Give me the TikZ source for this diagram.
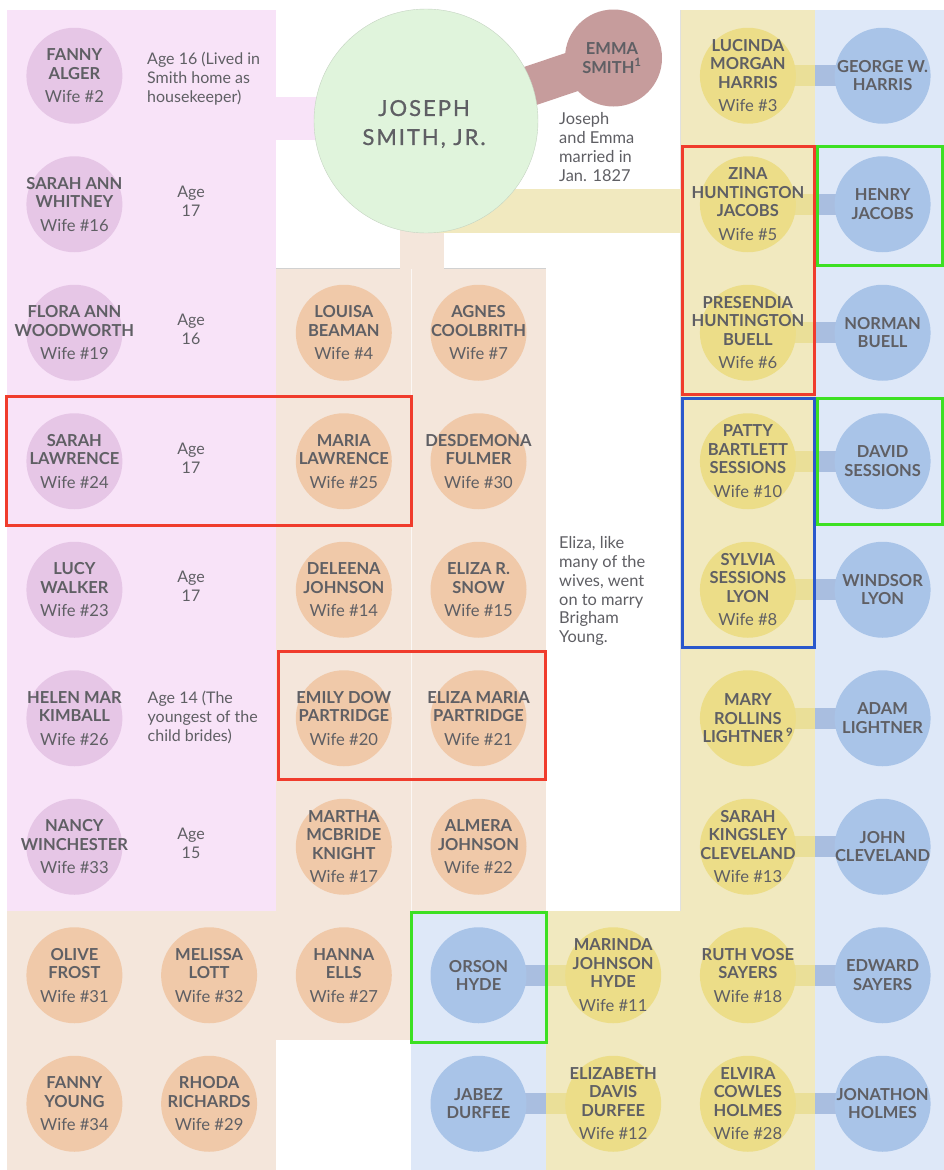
\documentclass[tikz,border=0pt]{standalone}
\usepackage{fontspec}
\setmainfont{Lato}
\newfontfamily\josephfont[LetterSpace=9,FakeBold=0.9]{Lato}
\definecolor{txt}{HTML}{5F5F64}
\definecolor{pinkbg}{HTML}{F8E3F8}
\definecolor{pinkc}{HTML}{E6C6E6}
\definecolor{beigebg}{HTML}{F4E6DB}
\definecolor{orangec}{HTML}{F0C9A9}
\definecolor{yellowbg}{HTML}{F1E9BF}
\definecolor{yellowc}{HTML}{ECDD88}
\definecolor{yellowbar}{HTML}{EADF98}
\definecolor{bluebg}{HTML}{DEE8F8}
\definecolor{bluec}{HTML}{A9C4E8}
\definecolor{bluebar}{HTML}{A9BEE0}
\definecolor{josephc}{HTML}{E0F4DC}
\definecolor{emmac}{HTML}{C69C9C}
\definecolor{redbox}{HTML}{F03C2C}
\definecolor{greenbox}{HTML}{3CE022}
\definecolor{bluebox}{HTML}{2A58CC}
\newcommand\namefont{\bfseries\fontsize{16.5}{18.5}\selectfont}
\newcommand\wf[1]{\mdseries\fontsize{16.6}{18.5}\selectfont #1}
\pgfdeclarelayer{bgrect}
\pgfdeclarelayer{bars}
\pgfsetlayers{bgrect,bars,main}
\tikzset{
  circ/.style={circle, minimum size=96pt, inner sep=0pt, draw=none},
  pk/.style={circ, fill=pinkc},
  or/.style={circ, fill=orangec},
  ye/.style={circ, fill=yellowc},
  bl/.style={circ, fill=bluec},
  ntext/.style={align=center, text=txt, font=\namefont, inner sep=0pt},
  note/.style={align=left, text=txt, inner sep=0pt, font=\fontsize{16}{19.3}\selectfont},
  smallnote/.style={align=left, text=txt, inner sep=0pt, font=\fontsize{16.4}{18.8}\selectfont},
  agec/.style={align=center, text=txt, inner sep=0pt, font=\fontsize{16}{19}\selectfont},
  ybar/.style={draw=yellowbar, line width=21pt},
  bbar/.style={draw=bluebar, line width=21pt},
  hbox/.style={line width=3pt}
}
\newcommand\pers[5]{\node[#2] (#1) at (#3,#4) {};\node[ntext] (#1-t) at (#3,#4) {#5};}
\begin{document}
\begin{tikzpicture}[x=1pt,y=-1pt]
\useasboundingbox (0,0) rectangle (944,1170);
\begin{pgfonlayer}{bgrect}
\fill[white] (0,0) rectangle (944,1170);
\fill[pinkbg] (7,10) rectangle (276.45,911);
\fill[beigebg] (276.45,268.5) rectangle (545.85,911);
\fill[beigebg] (7,911) rectangle (411.15,1039.5);
\fill[beigebg] (7,1039.5) rectangle (276.45,1170);
\fill[yellowbg] (680.55,10) rectangle (815.25,911);
\fill[yellowbg] (545.85,911) rectangle (815.25,1170);
\fill[bluebg] (815.25,10) rectangle (944,1170);
\fill[bluebg] (411.15,911) rectangle (545.85,1170);
\draw[white, opacity=0.7, line width=1pt] (411.15,268.5) -- (411.15,911);
\draw[black!18, line width=0.8pt] (276.45,268.5) -- (545.85,268.5);
\draw[black!12, line width=0.8pt] (680.55,10) -- (680.55,911);
\end{pgfonlayer}

% Joseph and Emma
\node[circle, minimum size=224pt, inner sep=0pt, fill=josephc, draw=josephc!85!black!90, line width=0.4pt] (joseph) at (426,121) {};
\node[text=txt, align=center, inner sep=0pt, font=\josephfont\fontsize{22}{29}\selectfont] (joseph-t) at (424,124) {JOSEPH\\SMITH, JR.};
\node[circ, minimum size=97pt, fill=emmac] (emma) at (613.5,58) {};
\node[ntext] (emma-t) at (612,58) {EMMA\\SMITH\textsuperscript{1}};
\node[smallnote, anchor=north west] (jnote) at (559,112.5) {Joseph\\and Emma\\married in\\Jan. 1827};

% row 0
\pers{fanny}{pk}{74.4}{75.75}{FANNY\\ALGER\\[5pt]\wf{Wife \#2}}
\node[note, anchor=north west] (age2) at (147,51.5) {Age 16 (Lived in\\Smith home as\\housekeeper)};
\pers{lucinda}{ye}{747.9}{75.75}{LUCINDA\\MORGAN\\HARRIS\\[5pt]\wf{Wife \#3}}
\pers{george}{bl}{882.6}{75.75}{GEORGE W.\\HARRIS}
% row 1
\pers{sarahann}{pk}{74.4}{204.25}{SARAH ANN\\WHITNEY\\[5pt]\wf{Wife \#16}}
\node[agec] (age16) at (191,201) {Age\\17};
\pers{zina}{ye}{747.9}{204.25}{ZINA\\HUNTINGTON\\JACOBS\\[5pt]\wf{Wife \#5}}
\pers{henry}{bl}{882.6}{204.25}{HENRY\\JACOBS}
% row 2
\pers{flora}{pk}{74.4}{332.75}{FLORA ANN\\WOODWORTH\\[5pt]\wf{Wife \#19}}
\node[agec] (age19) at (191,329.5) {Age\\16};
\pers{louisa}{or}{343.8}{332.75}{LOUISA\\BEAMAN\\[5pt]\wf{Wife \#4}}
\pers{agnes}{or}{478.5}{332.75}{AGNES\\COOLBRITH\\[5pt]\wf{Wife \#7}}
\pers{presendia}{ye}{747.9}{332.75}{PRESENDIA\\HUNTINGTON\\BUELL\\[5pt]\wf{Wife \#6}}
\pers{norman}{bl}{882.6}{332.75}{NORMAN\\BUELL}
% row 3
\pers{sarahl}{pk}{74.4}{461.25}{SARAH\\LAWRENCE\\[5pt]\wf{Wife \#24}}
\node[agec] (age24) at (191,458) {Age\\17};
\pers{maria}{or}{343.8}{461.25}{MARIA\\LAWRENCE\\[5pt]\wf{Wife \#25}}
\pers{desdemona}{or}{478.5}{461.25}{DESDEMONA\\FULMER\\[5pt]\wf{Wife \#30}}
\pers{patty}{ye}{747.9}{461.25}{PATTY\\BARTLETT\\SESSIONS\\[5pt]\wf{Wife \#10}}
\pers{david}{bl}{882.6}{461.25}{DAVID\\SESSIONS}
% row 4
\pers{lucy}{pk}{74.4}{589.75}{LUCY\\WALKER\\[5pt]\wf{Wife \#23}}
\node[agec] (age23) at (191,586.5) {Age\\17};
\pers{deleena}{or}{343.8}{589.75}{DELEENA\\JOHNSON\\[5pt]\wf{Wife \#14}}
\pers{elizar}{or}{478.5}{589.75}{ELIZA R.\\SNOW\\[5pt]\wf{Wife \#15}}
\node[smallnote, anchor=north west] (enote) at (559,536.5) {Eliza, like\\many of the\\wives, went\\on to marry\\Brigham\\Young.};
\pers{sylvia}{ye}{747.9}{589.75}{SYLVIA\\SESSIONS\\LYON\\[5pt]\wf{Wife \#8}}
\pers{windsor}{bl}{882.6}{589.75}{WINDSOR\\LYON}
% row 5
\pers{helen}{pk}{74.4}{718.25}{HELEN MAR\\KIMBALL\\[5pt]\wf{Wife \#26}}
\node[note, anchor=north west] (age26) at (147.5,690.5) {Age 14 (The\\youngest of the\\child brides)};
\pers{emily}{or}{343.8}{718.25}{EMILY DOW\\PARTRIDGE\\[5pt]\wf{Wife \#20}}
\pers{elizam}{or}{478.5}{718.25}{ELIZA MARIA\\PARTRIDGE\\[5pt]\wf{Wife \#21}}
\pers{mary}{ye}{747.9}{718.25}{MARY\\ROLLINS\\LIGHTNER\,\textsuperscript{9}}
\pers{adam}{bl}{882.6}{718.25}{ADAM\\LIGHTNER}
% row 6
\pers{nancy}{pk}{74.4}{846.75}{NANCY\\WINCHESTER\\[5pt]\wf{Wife \#33}}
\node[agec] (age33) at (191,843.5) {Age\\15};
\pers{martha}{or}{343.8}{846.75}{MARTHA\\MCBRIDE\\KNIGHT\\[5pt]\wf{Wife \#17}}
\pers{almera}{or}{478.5}{846.75}{ALMERA\\JOHNSON\\[5pt]\wf{Wife \#22}}
\pers{sarahk}{ye}{747.9}{846.75}{SARAH\\KINGSLEY\\CLEVELAND\\[5pt]\wf{Wife \#13}}
\pers{john}{bl}{882.6}{846.75}{JOHN\\CLEVELAND}
% row 7
\pers{olive}{or}{74.4}{975.25}{OLIVE\\FROST\\[5pt]\wf{Wife \#31}}
\pers{melissa}{or}{209.1}{975.25}{MELISSA\\LOTT\\[5pt]\wf{Wife \#32}}
\pers{hanna}{or}{343.8}{975.25}{HANNA\\ELLS\\[5pt]\wf{Wife \#27}}
\pers{orson}{bl}{478.5}{975.25}{ORSON\\HYDE}
\pers{marinda}{ye}{613.2}{975.25}{MARINDA\\JOHNSON\\HYDE\\[5pt]\wf{Wife \#11}}
\pers{ruth}{ye}{747.9}{975.25}{RUTH VOSE\\SAYERS\\[5pt]\wf{Wife \#18}}
\pers{edward}{bl}{882.6}{975.25}{EDWARD\\SAYERS}
% row 8
\pers{fannyy}{or}{74.4}{1103.75}{FANNY\\YOUNG\\[5pt]\wf{Wife \#34}}
\pers{rhoda}{or}{209.1}{1103.75}{RHODA\\RICHARDS\\[5pt]\wf{Wife \#29}}
\pers{jabez}{bl}{478.5}{1103.75}{JABEZ\\DURFEE}
\pers{elizabeth}{ye}{613.2}{1103.75}{ELIZABETH\\DAVIS\\DURFEE\\[5pt]\wf{Wife \#12}}
\pers{elvira}{ye}{747.9}{1103.75}{ELVIRA\\COWLES\\HOLMES\\[5pt]\wf{Wife \#28}}
\pers{jonathon}{bl}{882.6}{1103.75}{JONATHON\\HOLMES}

% connectors
\begin{pgfonlayer}{bars}
\draw[emmac, line width=40pt] (joseph.center) -- (emma.center);
\coordinate (jp) at (276.45,118.5);
\draw[pinkbg, line width=43pt] (jp) -- (jp -| joseph.center);
\coordinate (jb) at (422,269);
\draw[beigebg, line width=44pt] (jb) -- (jb |- joseph.center);
\coordinate (jy) at (680.55,211);
\draw[yellowbg, line width=44pt] (jy) -- (jy -| joseph.center);
\foreach \w/\h in {lucinda/george, zina/henry, presendia/norman, patty/david, sylvia/windsor, mary/adam, sarahk/john, ruth/edward, elvira/jonathon}{
  \coordinate (e-\w) at (815.25,0 |- \w.center);
  \draw[ybar] (\w.center) -- (e-\w);
  \draw[bbar] (e-\w) -- (\h.center);
}
\foreach \h/\w in {orson/marinda, jabez/elizabeth}{
  \coordinate (e-\w) at (545.85,0 |- \w.center);
  \draw[bbar] (\h.center) -- (e-\w);
  \draw[ybar] (e-\w) -- (\w.center);
}
\end{pgfonlayer}

% highlight boxes
\draw[hbox, redbox] (682,146.7) rectangle (814.3,394.5);
\draw[hbox, greenbox] (817.7,146.7) rectangle (942.5,265.7);
\draw[hbox, redbox] (6.6,396.2) rectangle (411.2,525.2);
\draw[hbox, greenbox] (817.7,398.5) rectangle (942.5,524);
\draw[hbox, bluebox] (682,398.5) rectangle (814,647);
\draw[hbox, redbox] (278,651.8) rectangle (545.2,779.8);
\draw[hbox, greenbox] (411.4,912.5) rectangle (546,1042.3);
\end{tikzpicture}
\end{document}
